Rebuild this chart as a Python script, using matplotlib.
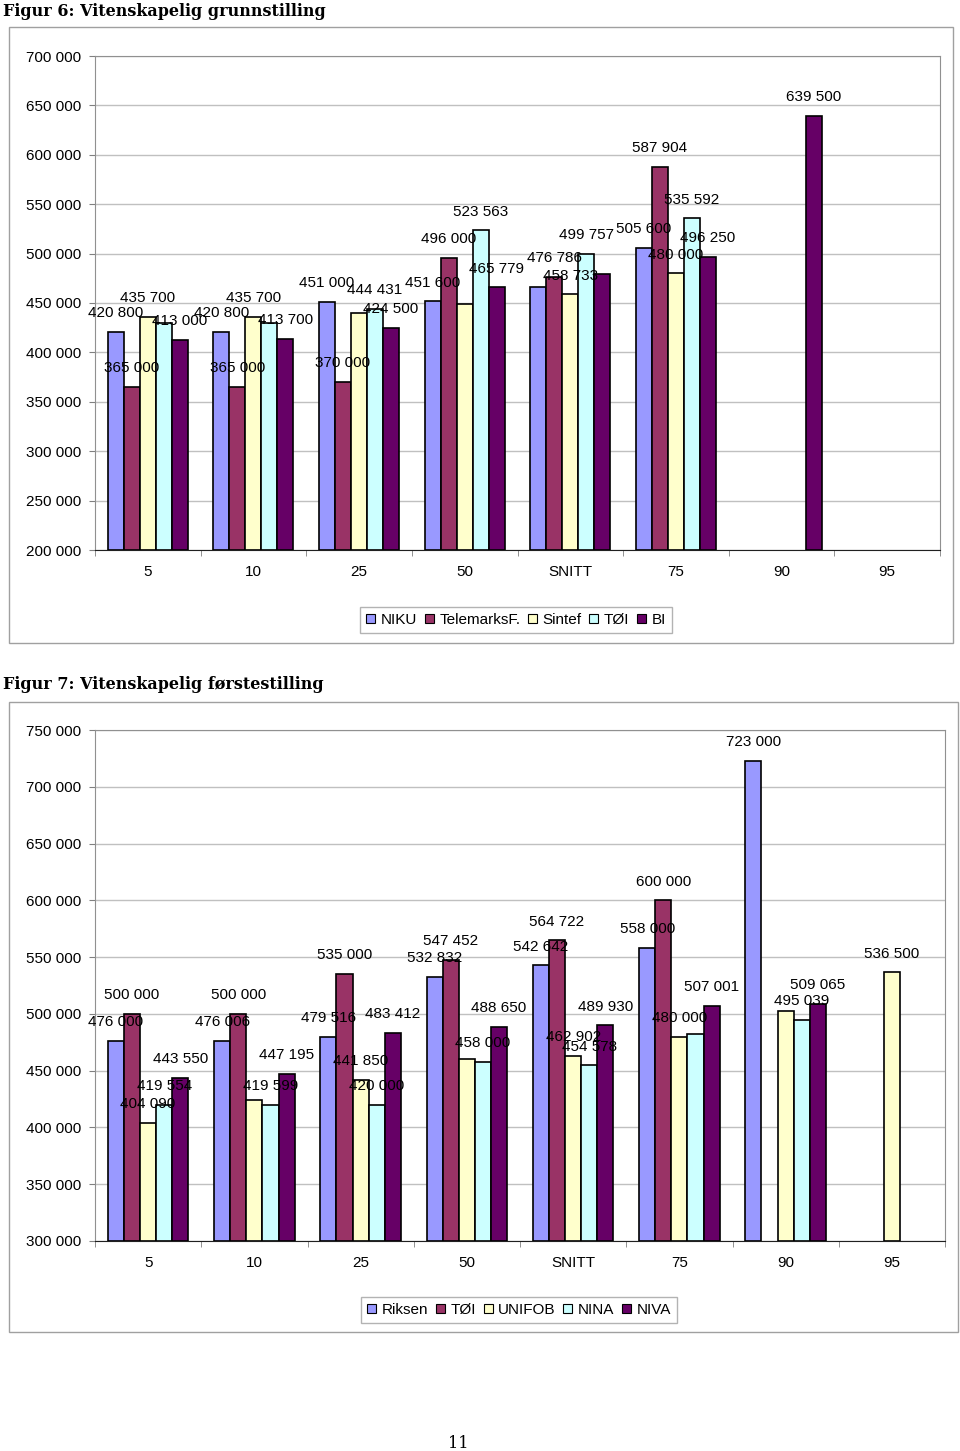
import numpy as np
import matplotlib
matplotlib.use("Agg")
import matplotlib.pyplot as plt
from matplotlib.patches import Rectangle, Patch

plt.rcParams['font.family'] = ['Liberation Sans', 'DejaVu Sans']

# ---------------- data ----------------
categories = ["5", "10", "25", "50", "SNITT", "75", "90", "95"]

# Figur 6
series6 = ["NIKU", "TelemarksF.", "Sintef", "TØI", "BI"]
niku = [420800, 420800, 451000, 451600, 466000, 505600, None, None]
telemarks = [365000, 365000, 370000, 496000, 476786, 587904, None, None]
sintef = [435700, 435700, 440000, 449000, 458733, 480000, None, None]
toi6 = [430000, 430000, 444431, 523563, 499757, 535592, None, None]
bi = [413000, 413700, 424500, 465779, 479000, 496250, 639500, None]
# which bars carry a visible data label
lab6 = [
    [1, 1, 1, 1, 0, 1, 0, 0],
    [1, 1, 1, 1, 1, 1, 0, 0],
    [1, 1, 0, 0, 1, 1, 0, 0],
    [0, 0, 1, 1, 1, 1, 0, 0],
    [1, 1, 1, 1, 0, 1, 1, 0],
]

# Figur 7
series7 = ["Riksen", "TØI", "UNIFOB", "NINA", "NIVA"]
riksen = [476000, 476006, 479516, 532832, 542642, 558000, 723000, None]
toi7 = [500000, 500000, 535000, 547452, 564722, 600000, None, None]
unifob = [404090, 424000, 441850, 460000, 462902, 480000, 502500, 536500]
nina = [419554, 419599, 420000, 458000, 454578, 482000, 495039, None]
niva = [443550, 447195, 483412, 488650, 489930, 507001, 509065, None]
lab7 = [
    [1, 1, 1, 1, 1, 1, 1, 0],
    [1, 1, 1, 1, 1, 1, 0, 0],
    [1, 0, 1, 0, 1, 1, 0, 1],
    [1, 1, 1, 1, 1, 0, 1, 0],
    [1, 1, 1, 1, 1, 1, 1, 0],
]

colors = ["#9999FF", "#993366", "#FFFFCC", "#CCFFFF", "#660066"]

W, H = 960, 1451
fig = plt.figure(figsize=(W / 100, H / 100), dpi=100)


def px_axes(l, t, r, b):
    return fig.add_axes([l / W, 1 - b / H, (r - l) / W, (b - t) / H])


def fmt(v):
    return f"{int(v):,}".replace(",", " ")


def draw_chart(ax, data, labels, ymin, ymax):
    n = len(data)
    w = 16 / 105.6
    x = np.arange(len(categories))
    for j, (vals, lab) in enumerate(zip(data, labels)):
        for i, v in enumerate(vals):
            if v is None:
                continue
            xc = x[i] + (j - (n - 1) / 2) * w
            ax.bar(xc, v - ymin, bottom=ymin, width=w, color=colors[j],
                   edgecolor="black", linewidth=1.2, zorder=3)
            if lab[i]:
                ax.annotate(fmt(v), (xc, v), xytext=(0, 8.5),
                            textcoords="offset points", ha="center",
                            va="bottom", fontsize=11, zorder=5)
    ax.set_xlim(-0.5, len(categories) - 0.5)
    ax.set_ylim(ymin, ymax)
    yt = np.arange(ymin, ymax + 1, 50000)
    ax.set_yticks(yt)
    ax.set_yticklabels([fmt(v) for v in yt], fontsize=11)
    ax.set_xticks(x)
    ax.set_xticklabels(categories, fontsize=11)
    ax.set_xticks(np.arange(len(categories) + 1) - 0.5, minor=True)
    ax.tick_params(axis="x", which="major", length=0, pad=11)
    ax.tick_params(axis="x", which="minor", length=4, color="#808080")
    ax.tick_params(axis="y", length=4, pad=6, color="#808080")
    ax.yaxis.grid(True, color="#c0c0c0", linewidth=1, zorder=0)
    ax.set_axisbelow(True)
    for s in ["top", "right", "left"]:
        ax.spines[s].set_color("#909090")
    ax.spines["bottom"].set_color("#202020")


def frame(l, t, r, b):
    fig.patches.append(Rectangle((l / W, 1 - b / H), (r - l) / W, (b - t) / H,
                                 transform=fig.transFigure, fill=False,
                                 edgecolor="#a0a0a0", linewidth=1))


def legend(names, cx, cy):
    handles = [Patch(facecolor=c, edgecolor="black", linewidth=0.8) for c in colors]
    leg = fig.legend(handles, names, loc="center", bbox_to_anchor=(cx / W, 1 - cy / H),
                     ncol=5, fontsize=11, frameon=True, fancybox=False,
                     edgecolor="#a0a0a0", handlelength=0.6, handleheight=0.6,
                     handletextpad=0.35, columnspacing=0.5, borderpad=0.4)
    leg.get_frame().set_linewidth(1)


# Titles
fig.text(3 / W, 1 - 11 / H, "Figur 6: Vitenskapelig grunnstilling",
         fontsize=11.5, fontweight="bold", family="DejaVu Serif", va="center")
fig.text(3 / W, 1 - 685 / H, "Figur 7: Vitenskapelig førstestilling",
         fontsize=11.5, fontweight="bold", family="DejaVu Serif", va="center")

frame(9, 27, 953, 643)
ax1 = px_axes(95, 56, 940, 550)
draw_chart(ax1, [niku, telemarks, sintef, toi6, bi], lab6, 200000, 700000)
legend(series6, 516, 620)

frame(9, 702, 958, 1332)
ax2 = px_axes(95, 730, 945, 1241)
draw_chart(ax2, [riksen, toi7, unifob, nina, niva], lab7, 300000, 750000)
legend(series7, 519, 1310)

fig.text(458 / W, 1 - 1443 / H, "11", fontsize=11.5, family="DejaVu Serif",
         ha="center", va="center")

fig.savefig("out.png", dpi=100)
